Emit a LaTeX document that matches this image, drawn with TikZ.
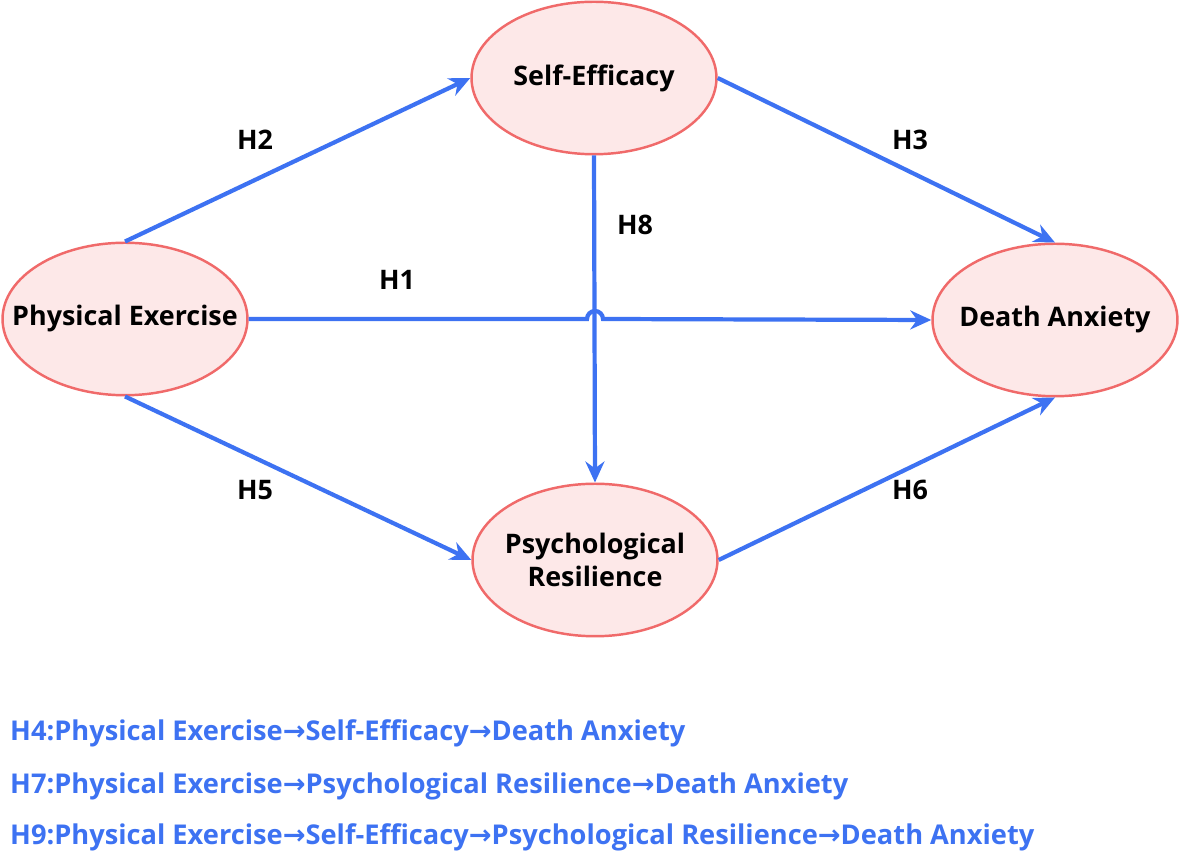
\documentclass[tikz,border=0pt]{standalone}
\usepackage{fontspec}
\setmainfont{Open Sans}
\newfontfamily\arrowfont{DejaVu Sans}
\usepackage{tikz}
\usetikzlibrary{arrows.meta,shapes.geometric}
\definecolor{pathblue}{HTML}{3D72F2}
\definecolor{nodeF}{HTML}{FDE8E8}
\definecolor{nodeD}{HTML}{F06A6A}
\newcommand{\ra}{{\arrowfont→}}

\begin{document}
\begin{tikzpicture}[x=0.02cm, y=-0.02cm, >={Stealth[length=0.42cm,width=0.38cm]}]
\tikzset{
  construct/.style={ellipse, draw=nodeD, line width=1.4pt, fill=nodeF, minimum width=4.9cm, minimum height=3.05cm, inner xsep=-0.6cm, inner ysep=0pt, font=\bfseries\fontsize{15.3}{19}\selectfont, align=center},
  hpath/.style={->, pathblue, line width=2.4pt},
  hyp/.style={font=\bfseries\fontsize{15.3}{18}\selectfont},
  note/.style={anchor=west, pathblue, font=\bfseries\fontsize{15.5}{18}\selectfont}
}
\useasboundingbox (0,0) rectangle (1181,857);
% constructs
\node[construct] (PE) at (125,319) {Physical Exercise};
\node[construct] (SE) at (594,78) {Self-Efficacy};
\node[construct] (DA) at (1055,320) {Death Anxiety};
\node[construct] (PR) at (595,560) {Psychological\\Resilience};
\coordinate (hop) at (PR.north |- PE.east);
% hypothesised paths
\draw[hpath] (PE.north) -- (SE.west);
\draw[hpath] (SE.east) -- (DA.north);
\draw[hpath] (SE.south) -- (PR.north);
\draw[hpath] (PE.south) -- (PR.west);
\draw[hpath] (PR.east) -- (DA.south);
\draw[hpath] (PE.east) -- ([xshift=-0.16cm]hop) arc[start angle=180, end angle=0, radius=0.16cm] -- (DA.west);
\node[hyp] (h2) at (255,140) {H2};
\node[hyp] (h3) at (910,140) {H3};
\node[hyp] (h1) at (397,280) {H1};
\node[hyp] (h8) at (635,225) {H8};
\node[hyp] (h5) at (255,490) {H5};
\node[hyp] (h6) at (910,490) {H6};
% mediation hypotheses
\node[note] (h4) at (4,733) {H4:Physical Exercise\ra Self-Efficacy\ra Death Anxiety};
\node[note] (h7) at (4,786) {H7:Physical Exercise\ra Psychological Resilience\ra Death Anxiety};
\node[note] (h9) at (4,837) {H9:Physical Exercise\ra Self-Efficacy\ra Psychological Resilience\ra Death Anxiety};
\end{tikzpicture}
\end{document}
